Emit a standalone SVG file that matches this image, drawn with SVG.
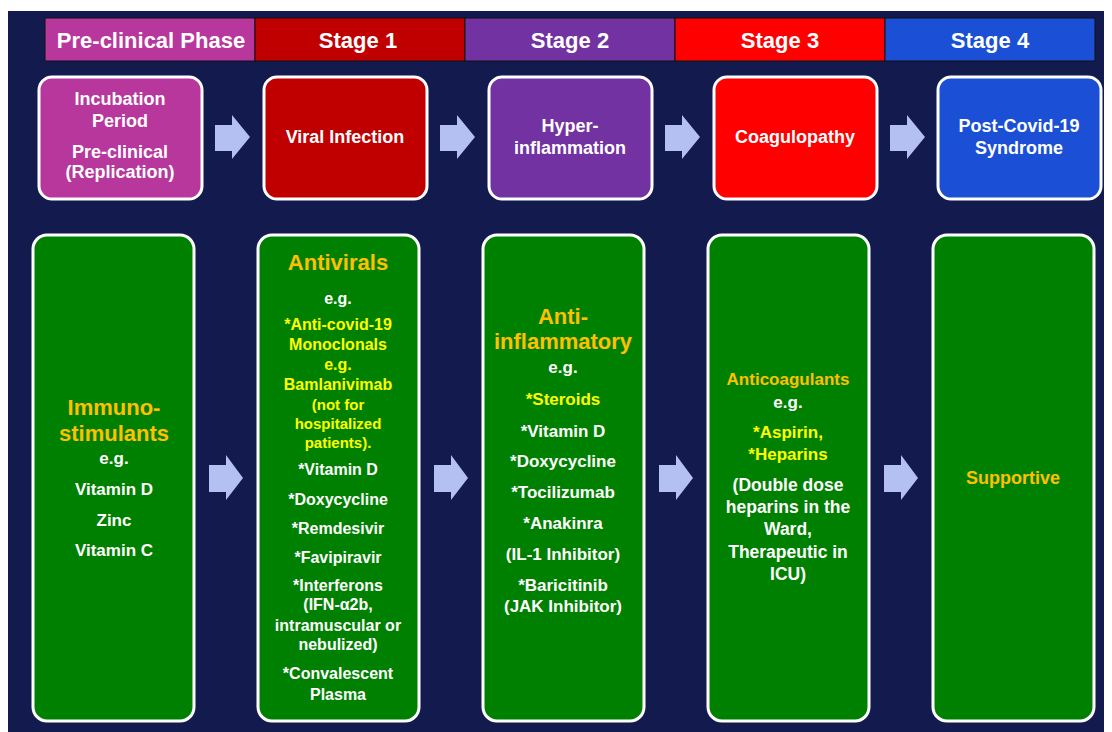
<svg xmlns="http://www.w3.org/2000/svg" width="1112" height="732" viewBox="0 0 1112 732">
<style>
text{font-family:"Liberation Sans",Arial,sans-serif;font-weight:bold;text-anchor:middle;fill:#fff}
.hd{font-size:22px}
.tb{font-size:18px}
.or{fill:#FFC000}
.ye{fill:#FFFF00}
.big{font-size:22px}
.b16{font-size:16px}
.b17{font-size:17px}
.box{stroke:#fff;stroke-width:3}
.g{fill:#008000}
.arr{fill:#B4C0F2}
.hdr{stroke:#111;stroke-width:1}
</style>
<rect x="0" y="0" width="1112" height="732" fill="#fff"/>
<rect x="8" y="11" width="1096" height="721" fill="#121A4E"/>

<g id="header">
<rect class="hdr" x="45" y="18" width="210" height="43" fill="#B8379C"/>
<rect class="hdr" x="255" y="18" width="210" height="43" fill="#C00000"/>
<rect class="hdr" x="465" y="18" width="210" height="43" fill="#7232A2"/>
<rect class="hdr" x="675" y="18" width="210" height="43" fill="#FF0000"/>
<rect class="hdr" x="885" y="18" width="210" height="43" fill="#1A4FD6"/>
<text class="hd" x="151" y="48">Pre-clinical Phase</text>
<text class="hd" x="358" y="48">Stage 1</text>
<text class="hd" x="570" y="48">Stage 2</text>
<text class="hd" x="780" y="48">Stage 3</text>
<text class="hd" x="990" y="48">Stage 4</text>
</g>

<g id="node-incubation">
<rect class="box" x="39" y="77" width="163" height="122" rx="13" fill="#B8379C"/>
<text class="tb" x="120" y="105">Incubation</text>
<text class="tb" x="120" y="127">Period</text>
<text class="tb" x="120" y="158">Pre-clinical</text>
<text class="tb" x="120" y="178">(Replication)</text>
</g>
<g id="node-viral">
<rect class="box" x="264" y="77" width="163" height="122" rx="13" fill="#C00000"/>
<text class="tb" x="345" y="143">Viral Infection</text>
</g>
<g id="node-hyper">
<rect class="box" x="489" y="77" width="163" height="122" rx="13" fill="#7232A2"/>
<text class="tb" x="570" y="132">Hyper-</text>
<text class="tb" x="570" y="154">inflammation</text>
</g>
<g id="node-coag">
<rect class="box" x="714" y="77" width="163" height="122" rx="13" fill="#FF0000"/>
<text class="tb" x="795" y="143">Coagulopathy</text>
</g>
<g id="node-postcovid">
<rect class="box" x="938" y="77" width="163" height="122" rx="13" fill="#1A4FD6"/>
<text class="tb" x="1019" y="132">Post-Covid-19</text>
<text class="tb" x="1019" y="154">Syndrome</text>
</g>

<g id="node-immuno">
<rect class="box g" x="33" y="235" width="161" height="486" rx="14"/>
<text class="big or" x="114" y="415">Immuno-</text>
<text class="big or" x="114" y="441">stimulants</text>
<text class="b17" x="114" y="464">e.g.</text>
<text class="b17" x="114" y="495">Vitamin D</text>
<text class="b17" x="114" y="526">Zinc</text>
<text class="b17" x="114" y="556">Vitamin C</text>
</g>
<g id="node-antivirals">
<rect class="box g" x="258" y="235" width="161" height="486" rx="14"/>
<text class="big or" x="338" y="270">Antivirals</text>
<text class="b16" x="338" y="304">e.g.</text>
<text class="b16 ye" x="338" y="330">*Anti-covid-19</text>
<text class="b16 ye" x="338" y="350">Monoclonals</text>
<text class="b16 ye" x="338" y="370">e.g.</text>
<text class="b16 ye" x="338" y="390">Bamlanivimab</text>
<text class="ye" style="font-size:15px" x="338" y="410">(not for</text>
<text class="ye" style="font-size:15px" x="338" y="429">hospitalized</text>
<text class="ye" style="font-size:15px" x="338" y="448">patients).</text>
<text class="b16" x="338" y="475">*Vitamin D</text>
<text class="b16" x="338" y="505">*Doxycycline</text>
<text class="b16" x="338" y="534">*Remdesivir</text>
<text class="b16" x="338" y="563">*Favipiravir</text>
<text class="b16" x="338" y="591">*Interferons</text>
<text class="b16" x="338" y="610">(IFN-α2b,</text>
<text class="b16" x="338" y="631">intramuscular or</text>
<text class="b16" x="338" y="650">nebulized)</text>
<text class="b16" x="338" y="679">*Convalescent</text>
<text class="b16" x="338" y="700">Plasma</text>
</g>
<g id="node-antiinflammatory">
<rect class="box g" x="483" y="235" width="161" height="486" rx="14"/>
<text class="big or" x="563" y="324">Anti-</text>
<text class="big or" x="563" y="349">inflammatory</text>
<text class="b17" x="563" y="373">e.g.</text>
<text class="b17 ye" x="563" y="405">*Steroids</text>
<text class="b17" x="563" y="437">*Vitamin D</text>
<text class="b17" x="563" y="467">*Doxycycline</text>
<text class="b17" x="563" y="498">*Tocilizumab</text>
<text class="b17" x="563" y="529">*Anakinra</text>
<text class="b17" x="563" y="560">(IL-1 Inhibitor)</text>
<text class="b17" x="563" y="591">*Baricitinib</text>
<text class="b17" x="563" y="612">(JAK Inhibitor)</text>
</g>
<g id="node-anticoag">
<rect class="box g" x="708" y="235" width="161" height="486" rx="14"/>
<text class="b17 or" x="788" y="385">Anticoagulants</text>
<text class="b17" x="788" y="408">e.g.</text>
<text class="b17 ye" x="788" y="438">*Aspirin,</text>
<text class="b17 ye" x="788" y="460">*Heparins</text>
<text style="font-size:17.5px" x="788" y="491">(Double dose</text>
<text style="font-size:17.5px" x="788" y="513">heparins in the</text>
<text style="font-size:17.5px" x="788" y="535">Ward,</text>
<text style="font-size:17.5px" x="788" y="558">Therapeutic in</text>
<text style="font-size:17.5px" x="788" y="580">ICU)</text>
</g>
<g id="node-supportive">
<rect class="box g" x="933" y="235" width="161" height="486" rx="14"/>
<text class="or" style="font-size:18px" x="1013" y="484">Supportive</text>
</g>

<g id="connectors">
<polygon class="arr" points="215,125 232,125 232,115 250,137 232,159 232,151 215,151"/>
<polygon class="arr" points="440,125 457,125 457,115 475,137 457,159 457,151 440,151"/>
<polygon class="arr" points="665,125 682,125 682,115 700,137 682,159 682,151 665,151"/>
<polygon class="arr" points="890,125 907,125 907,115 925,137 907,159 907,151 890,151"/>
<polygon class="arr" points="209,465 226,465 226,455 243,478 226,500 226,492 209,492"/>
<polygon class="arr" points="434,465 451,465 451,455 468,478 451,500 451,492 434,492"/>
<polygon class="arr" points="659,465 676,465 676,455 693,478 676,500 676,492 659,492"/>
<polygon class="arr" points="884,465 901,465 901,455 918,478 901,500 901,492 884,492"/>
</g>
</svg>
